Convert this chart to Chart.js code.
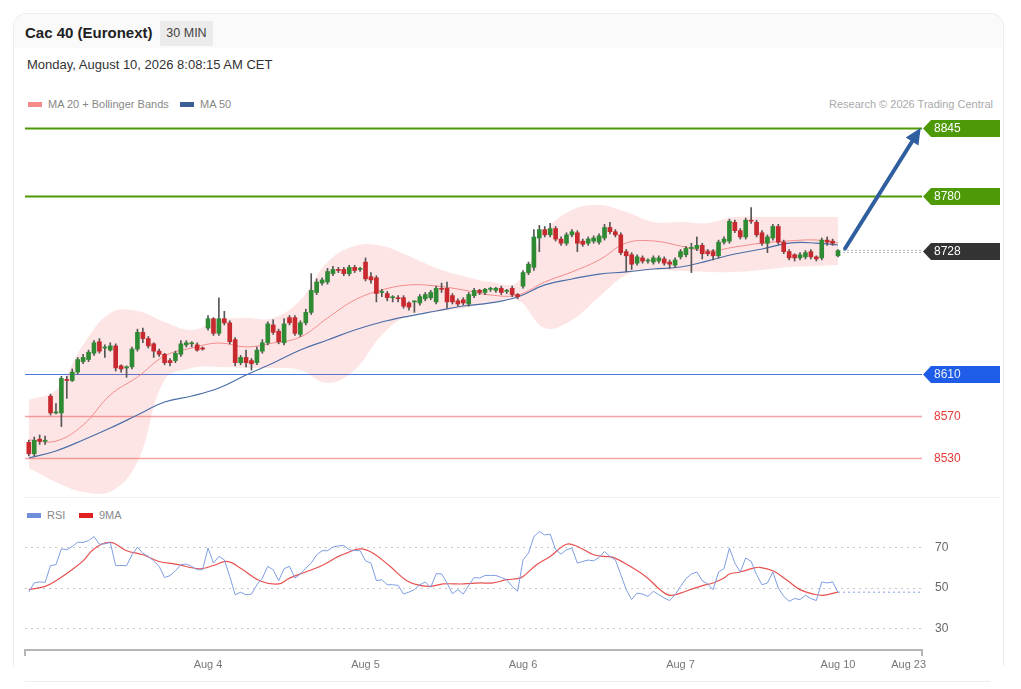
<!DOCTYPE html>
<html>
<head>
<meta charset="utf-8">
<script src="https://cdn.jsdelivr.net/npm/chart.js@4.4.1/dist/chart.umd.min.js"></script>
<style>
body { margin: 0; background: #fff; font-family: "Liberation Sans", Arial, sans-serif; width: 1021px; height: 689px; overflow: hidden; position: relative; }
.card { position: absolute; left: 13px; top: 13px; width: 989px; height: 652px; border: 1px solid #ececec; border-bottom: none; border-radius: 14px 14px 0 0; }
.head { position: absolute; left: 14px; top: 14px; width: 988px; height: 34px; background: #fafafa; border-radius: 13px 13px 0 0; }
#title { position: absolute; left: 25px; top: 24px; font-size: 15px; font-weight: bold; color: #222; }
#tf { position: absolute; left: 160px; top: 21px; width: 53px; height: 25px; background: #ebebeb; border-radius: 2px; font-size: 12.5px; color: #444; line-height: 25px; text-align: center; }
#date { position: absolute; left: 27px; top: 57px; font-size: 13px; color: #333; }
.leg { position: absolute; font-size: 11px; color: #888; white-space: nowrap; line-height: 14px; }
.sw { display: inline-block; width: 14px; height: 5px; vertical-align: middle; margin-right: 6px; position: relative; top: -1px; }
#credit { position: absolute; right: 28px; top: 98px; font-size: 11px; color: #aaa; }
#sep { position: absolute; left: 25px; top: 497px; width: 975px; border-top: 1px dotted #e0e0e0; }
#foot { position: absolute; left: 25px; top: 681px; width: 965px; border-top: 1px solid #eee; }
#mainWrap { position: absolute; left: 0; top: 110px; }
#rsiWrap { position: absolute; left: 0; top: 500px; }
</style>
</head>
<body>
<div class="card"></div>
<div class="head"></div>
<div id="title">Cac 40 (Euronext)</div>
<div id="tf">30 MIN</div>
<div id="date">Monday, August 10, 2026 8:08:15 AM CET</div>
<div class="leg" style="left:28px;top:97px"><span class="sw" style="background:#f58b8b"></span>MA 20 + Bollinger Bands</div>
<div class="leg" style="left:180px;top:97px"><span class="sw" style="background:#3d5f98"></span>MA 50</div>
<div id="credit">Research © 2026 Trading Central</div>
<div id="sep"></div>
<div class="leg" style="left:27px;top:508px"><span class="sw" style="background:#6f8fdc"></span>RSI</div>
<div class="leg" style="left:79px;top:508px"><span class="sw" style="background:#e02020"></span>9MA</div>
<div id="foot"></div>
<div id="mainWrap"><canvas id="main" width="1021" height="390"></canvas></div>
<div id="rsiWrap"><canvas id="rsi" width="1021" height="189"></canvas></div>
<script>
// 30 min candles, index 0 = first bar
const opens = [
  8545, 8534, 8548, 8546, 8589, 8573, 8573, 8605, 8604, 8612,
  8622, 8624, 8630, 8641, 8635, 8633, 8637, 8618, 8616, 8617,
  8634, 8650, 8644, 8639, 8632, 8629, 8623, 8623, 8629, 8638,
  8639, 8638, 8635, 8654, 8663, 8649, 8663, 8659, 8643, 8621,
  8626, 8623, 8621, 8632, 8640, 8657, 8651, 8640, 8664, 8664,
  8648, 8659, 8669, 8688, 8697, 8698, 8706, 8710, 8710, 8706,
  8712, 8710, 8717, 8703, 8702, 8688, 8687, 8683, 8683, 8683,
  8678, 8679, 8678, 8682, 8683, 8679, 8692, 8692, 8685, 8680,
  8681, 8677, 8685, 8690, 8688, 8691, 8690, 8692, 8689, 8692,
  8686, 8694, 8707, 8712, 8740, 8748, 8743, 8749, 8739, 8735,
  8743, 8745, 8737, 8735, 8737, 8736, 8740, 8750, 8746, 8743,
  8727, 8724, 8716, 8721, 8718, 8717, 8718, 8720, 8717, 8714,
  8722, 8724, 8730, 8730, 8733, 8727, 8727, 8723, 8736, 8737,
  8755, 8747, 8741, 8757, 8755, 8745, 8735, 8740, 8751, 8736,
  8727, 8724, 8721, 8722, 8727, 8722, 8721, 8738, 8737, 8723
];
const highs = [
  8547, 8550, 8552, 8551, 8591, 8582, 8608, 8608, 8615, 8626,
  8629, 8633, 8642, 8644, 8638, 8640, 8639, 8619, 8618, 8636,
  8653, 8654, 8646, 8640, 8634, 8630, 8625, 8632, 8642, 8642,
  8641, 8640, 8636, 8666, 8664, 8683, 8670, 8661, 8645, 8628,
  8633, 8625, 8636, 8643, 8660, 8662, 8653, 8663, 8666, 8666,
  8661, 8672, 8706, 8701, 8702, 8711, 8713, 8712, 8712, 8714,
  8714, 8712, 8721, 8707, 8704, 8691, 8689, 8685, 8685, 8685,
  8679, 8680, 8686, 8688, 8690, 8694, 8697, 8698, 8687, 8682,
  8683, 8688, 8692, 8691, 8692, 8693, 8693, 8694, 8691, 8694,
  8687, 8709, 8717, 8748, 8752, 8751, 8754, 8751, 8741, 8745,
  8748, 8747, 8739, 8741, 8742, 8744, 8753, 8755, 8748, 8745,
  8729, 8726, 8724, 8723, 8720, 8723, 8723, 8722, 8719, 8721,
  8729, 8732, 8735, 8741, 8735, 8729, 8729, 8738, 8741, 8758,
  8757, 8749, 8759, 8769, 8757, 8747, 8743, 8753, 8753, 8738,
  8729, 8725, 8726, 8728, 8729, 8723, 8740, 8741, 8739, 8729
];
const lows = [
  8532, 8532, 8543, 8543, 8571, 8572, 8560, 8587, 8603, 8610,
  8620, 8622, 8628, 8630, 8626, 8632, 8613, 8612, 8607, 8615,
  8632, 8640, 8635, 8626, 8627, 8619, 8618, 8621, 8627, 8636,
  8636, 8632, 8633, 8652, 8647, 8647, 8657, 8639, 8618, 8619,
  8617, 8614, 8619, 8630, 8638, 8648, 8639, 8638, 8657, 8647,
  8646, 8657, 8667, 8686, 8695, 8696, 8704, 8707, 8704, 8704,
  8707, 8708, 8699, 8697, 8679, 8684, 8680, 8679, 8679, 8673,
  8671, 8669, 8676, 8680, 8681, 8677, 8688, 8673, 8677, 8675,
  8676, 8675, 8683, 8686, 8686, 8689, 8688, 8686, 8687, 8684,
  8682, 8692, 8705, 8709, 8727, 8741, 8741, 8737, 8733, 8733,
  8741, 8727, 8732, 8733, 8735, 8734, 8738, 8744, 8741, 8724,
  8708, 8710, 8714, 8716, 8716, 8715, 8716, 8714, 8711, 8712,
  8720, 8722, 8707, 8728, 8720, 8723, 8719, 8721, 8734, 8735,
  8745, 8739, 8739, 8754, 8741, 8733, 8726, 8738, 8734, 8725,
  8719, 8718, 8719, 8720, 8720, 8718, 8719, 8733, 8733, 8722
];
const closes = [
  8534, 8547, 8546, 8547, 8573, 8574, 8606, 8604, 8612, 8624,
  8626, 8631, 8640, 8632, 8635, 8637, 8616, 8615, 8617, 8634,
  8650, 8644, 8637, 8632, 8629, 8621, 8621, 8630, 8639, 8640,
  8639, 8633, 8634, 8663, 8649, 8663, 8659, 8641, 8621, 8626,
  8621, 8620, 8633, 8640, 8658, 8650, 8641, 8658, 8659, 8649,
  8659, 8669, 8690, 8698, 8700, 8708, 8710, 8709, 8706, 8712,
  8709, 8710, 8701, 8700, 8687, 8688, 8683, 8683, 8682, 8675,
  8674, 8679, 8684, 8686, 8688, 8692, 8691, 8679, 8679, 8677,
  8678, 8686, 8690, 8688, 8691, 8691, 8692, 8688, 8690, 8686,
  8684, 8707, 8715, 8741, 8748, 8743, 8749, 8739, 8735, 8743,
  8746, 8735, 8734, 8739, 8740, 8742, 8750, 8746, 8743, 8726,
  8723, 8715, 8722, 8718, 8718, 8721, 8721, 8716, 8715, 8719,
  8727, 8730, 8731, 8733, 8725, 8725, 8723, 8736, 8739, 8756,
  8747, 8741, 8757, 8756, 8743, 8735, 8741, 8751, 8736, 8727,
  8721, 8721, 8724, 8726, 8722, 8720, 8738, 8736, 8735, 8728
];

// moving averages and bands, read at these bar indexes
const bandIdx = [0, 5, 10, 15, 20, 25, 30, 35, 40, 45, 50, 55, 60, 65, 70, 75, 80, 85, 90, 95, 100, 105, 110, 115, 120, 125, 130, 135, 140, 145, 149];
const bbUpper = [8585.4, 8594.9, 8637.9, 8668.4, 8670.3, 8659.8, 8652.2, 8661.7, 8663.6, 8663.6, 8680.8, 8717.1, 8732.4, 8732.4, 8722.8, 8711.4, 8703.7, 8698.0, 8698.0, 8745.7, 8766.7, 8771.5, 8764.8, 8755.3, 8755.3, 8754.3, 8760.1, 8760.1, 8760.1, 8760.1, 8760.1];
const bbLower = [8520.5, 8507.1, 8497.5, 8497.5, 8526.2, 8604.5, 8615.9, 8616.9, 8615.9, 8615.9, 8614.0, 8601.6, 8614.0, 8647.4, 8666.5, 8669.4, 8673.2, 8678.0, 8680.8, 8654.1, 8661.7, 8683.7, 8704.7, 8709.5, 8708.5, 8707.6, 8707.6, 8709.5, 8712.3, 8713.3, 8714.2];
const ma20 = [8547.2, 8546.2, 8561.5, 8590.2, 8607.3, 8627.4, 8635.0, 8639.8, 8636.0, 8639.8, 8645.5, 8663.6, 8680.8, 8690.4, 8695.2, 8694.2, 8690.4, 8685.6, 8685.6, 8698.0, 8707.6, 8719.0, 8735.2, 8737.2, 8732.4, 8727.6, 8731.4, 8735.2, 8737.2, 8738.1, 8735.2];
const ma50 = [8530.0, 8536.7, 8547.2, 8558.6, 8571.1, 8583.5, 8589.2, 8596.8, 8609.2, 8620.7, 8633.1, 8642.6, 8652.2, 8659.8, 8665.5, 8670.3, 8675.1, 8678.0, 8683.7, 8695.2, 8700.9, 8705.6, 8707.6, 8710.4, 8712.3, 8718.1, 8724.7, 8729.5, 8735.2, 8735.2, 8733.3];

// RSI per bar, and its 9 period average read at these indexes
const rsi = [
  48.0, 52.5, 53.0, 52.8, 61.1, 61.5, 69.3, 68.9, 70.5, 72.6,
  72.5, 73.4, 75.4, 71.6, 71.8, 72.5, 61.0, 61.1, 61.0, 66.4,
  70.2, 67.2, 65.6, 63.4, 60.7, 55.2, 56.1, 58.5, 61.5, 61.8,
  60.7, 59.0, 59.0, 69.7, 62.3, 65.6, 63.9, 55.7, 46.7, 47.9,
  46.7, 47.0, 51.6, 54.9, 60.7, 59.0, 53.6, 59.5, 60.7, 54.9,
  56.9, 59.8, 62.3, 66.4, 68.4, 68.4, 70.2, 70.8, 71.0, 68.9,
  68.5, 68.4, 63.4, 62.3, 53.6, 54.1, 51.6, 51.6, 51.3, 47.0,
  48.0, 49.2, 51.6, 53.0, 50.3, 57.0, 57.0, 52.5, 47.2, 49.2,
  47.0, 51.3, 55.2, 54.9, 56.2, 56.2, 56.2, 55.2, 54.1, 50.8,
  48.4, 63.9, 67.2, 75.4, 77.9, 76.2, 76.6, 68.9, 66.7, 68.9,
  69.7, 62.3, 63.1, 63.8, 63.4, 65.1, 68.0, 65.6, 63.9, 56.6,
  49.2, 44.3, 47.5, 47.0, 45.9, 48.4, 46.7, 45.1, 43.8, 46.7,
  50.8, 54.6, 56.9, 57.9, 53.6, 52.0, 49.2, 57.9, 59.5, 69.7,
  62.3, 57.9, 64.8, 63.1, 56.6, 51.6, 52.5, 57.9, 50.0, 45.9,
  43.4, 44.8, 44.3, 46.4, 44.8, 43.8, 53.0, 52.5, 53.0, 47.9
];
const ma9Idx = [0, 3, 5, 7.5, 10, 12, 15, 18, 21, 24, 27, 31.5, 34, 36.5, 39, 42.5, 46, 48, 51, 54, 57, 58.5, 61, 63.4, 66.5, 69.6, 72, 74, 76.3, 80, 83, 85.5, 88, 90, 91, 93.5, 96, 99, 101, 104, 106, 107.6, 110.7, 113.8, 116.3, 118, 120, 122.3, 124.2, 126, 128, 129, 131, 133.4, 134.6, 137, 139.5, 142, 144.5, 146.3, 149];
const ma9Val = [49.2, 50.8, 53.6, 58.2, 63.4, 69.3, 72.5, 68.4, 66.4, 63.1, 61.8, 59.5, 61.1, 63.1, 59.8, 53.6, 52.0, 54.9, 57.9, 61.1, 65.6, 67.2, 69.3, 67.2, 60.7, 53.6, 51.3, 50.8, 52.0, 52.0, 52.5, 52.5, 54.1, 54.6, 55.7, 61.5, 65.6, 71.6, 70.5, 66.4, 65.6, 65.1, 60.7, 55.2, 49.0, 46.4, 47.5, 49.7, 51.3, 52.5, 54.9, 56.9, 57.9, 59.8, 60.2, 58.5, 54.1, 49.2, 47.0, 46.4, 48.0];
const rsiTicks = [30, 50, 70];

// axis labels (bar index of each day open)
const dayTicks = [33, 62, 91, 120, 149, 162];
const dayLabels = ['Aug 4', 'Aug 5', 'Aug 6', 'Aug 7', 'Aug 10', 'Aug 23'];

// analyst levels and target arrow
const levelValues = [8845, 8780, 8728, 8610, 8570, 8530];
const levelKinds = ['target', 'target', 'last', 'pivot', 'support', 'support'];
const arrowFrom = [150.3, 8730];
const arrowTo = [164.2, 8845];

const X_MIN = -0.7, X_MAX = 164.46;
const GREEN = '#2f8a34', RED = '#c8292e';

Chart.defaults.font.family = '"Liberation Sans", Arial, sans-serif';
Chart.defaults.animation = false;

const pts = (xs, ys) => xs.map((x, k) => ({ x: x, y: ys[k] }));
const bodies = opens.map((o, i) => ({ x: i, y: [o, closes[i]] }));
const wicks = lows.map((l, i) => ({ x: i, y: [l, highs[i]] }));

function levelBox(ctx, left, cy, fill, text, textColor) {
    const right = left + 77, h = 8.5;
    ctx.fillStyle = fill;
    ctx.beginPath();
    ctx.moveTo(left, cy);
    ctx.lineTo(left + 8, cy - h);
    ctx.lineTo(right, cy - h);
    ctx.lineTo(right, cy + h);
    ctx.lineTo(left + 8, cy + h);
    ctx.closePath();
    ctx.fill();
    ctx.fillStyle = textColor;
    ctx.fillText(text, left + 11, cy + 0.5);
}

const levelPlugin = {
    id: 'levels',
    beforeDatasetsDraw(chart) {
        const { ctx, chartArea: a, scales: { x, y } } = chart;
        ctx.save();
        levelValues.forEach((v, k) => {
            const py = Math.round(y.getPixelForValue(v)) + 0.5;
            const kind = levelKinds[k];
            ctx.setLineDash([]);
            if (kind === 'target') { ctx.strokeStyle = '#4e9a06'; ctx.lineWidth = 2; }
            else if (kind === 'pivot') { ctx.strokeStyle = '#4a78de'; ctx.lineWidth = 1.2; }
            else if (kind === 'support') { ctx.strokeStyle = '#f4a4a4'; ctx.lineWidth = 1.5; }
            else return;
            ctx.beginPath();
            ctx.moveTo(a.left, py);
            ctx.lineTo(a.right, py);
            ctx.stroke();
        });
        ctx.restore();
    },
    afterDatasetsDraw(chart) {
        const { ctx, chartArea: a, scales: { x, y } } = chart;
        ctx.save();
        // dotted line from last bar
        const lastIdx = closes.length - 1;
        levelValues.forEach((v, k) => {
            if (levelKinds[k] !== 'last') return;
            const py = Math.round(y.getPixelForValue(v));
            ctx.strokeStyle = '#b8b8b8';
            ctx.lineWidth = 1;
            ctx.setLineDash([2, 2]);
            [py - 0.5, py + 1.5].forEach(yy => {
                ctx.beginPath();
                ctx.moveTo(x.getPixelForValue(lastIdx) + 5, yy);
                ctx.lineTo(a.right, yy);
                ctx.stroke();
            });
        });
        ctx.setLineDash([]);
        // target arrow
        const x1 = x.getPixelForValue(arrowFrom[0]), y1 = y.getPixelForValue(arrowFrom[1]);
        const x2 = x.getPixelForValue(arrowTo[0]), y2 = y.getPixelForValue(arrowTo[1]);
        const ang = Math.atan2(y2 - y1, x2 - x1);
        const hl = 16, hw = 7.5;
        const bx = x2 - hl * Math.cos(ang), by = y2 - hl * Math.sin(ang);
        ctx.strokeStyle = '#2f5f9e';
        ctx.fillStyle = '#2f5f9e';
        ctx.lineWidth = 4;
        ctx.lineCap = 'round';
        ctx.beginPath();
        ctx.moveTo(x1, y1);
        ctx.lineTo(bx, by);
        ctx.stroke();
        ctx.beginPath();
        ctx.moveTo(x2, y2);
        ctx.lineTo(bx + hw * Math.sin(ang), by - hw * Math.cos(ang));
        ctx.lineTo(bx - hw * Math.sin(ang), by + hw * Math.cos(ang));
        ctx.closePath();
        ctx.fill();
        // right side labels
        ctx.font = '12px "Liberation Sans", Arial, sans-serif';
        ctx.textBaseline = 'middle';
        ctx.textAlign = 'left';
        levelValues.forEach((v, k) => {
            const cy = Math.round(y.getPixelForValue(v)) + 0.5;
            const kind = levelKinds[k];
            const left = a.right + 1;
            if (kind === 'target') levelBox(ctx, left, cy, '#4e9a06', String(v), '#fff');
            else if (kind === 'last') levelBox(ctx, left, cy, '#333', String(v), '#fff');
            else if (kind === 'pivot') levelBox(ctx, left, cy, '#1f5ce8', String(v), '#e8efff');
            else {
                ctx.fillStyle = '#e53935';
                ctx.fillText(String(v), left + 11, cy + 0.5);
            }
        });
        ctx.restore();
    }
};

new Chart(document.getElementById('main'), {
    type: 'bar',
    data: {
        datasets: [
            { type: 'line', data: pts(bandIdx, ma20), borderColor: '#f28b8b', borderWidth: 1, pointRadius: 0, tension: 0.4, fill: false, order: 2 },
            { type: 'line', data: pts(bandIdx, ma50), borderColor: '#4a6ea8', borderWidth: 1.2, pointRadius: 0, tension: 0.4, fill: false, order: 2 },
            { type: 'line', data: pts(bandIdx, bbUpper), borderColor: 'rgba(0,0,0,0)', borderWidth: 0, pointRadius: 0, tension: 0.4, fill: '+1', backgroundColor: 'rgba(245,80,80,0.15)', order: 5 },
            { type: 'line', data: pts(bandIdx, bbLower), borderColor: 'rgba(0,0,0,0)', borderWidth: 0, pointRadius: 0, tension: 0.4, fill: false, order: 5 },
            { data: wicks, backgroundColor: '#555', barThickness: 1, grouped: false, order: 1 },
            {
                data: bodies,
                backgroundColor: ctx => closes[ctx.dataIndex] >= opens[ctx.dataIndex] ? GREEN : RED,
                barThickness: 4, minBarLength: 1, grouped: false, order: 0
            }
        ]
    },
    options: {
        responsive: false,
        layout: { padding: { left: 25, right: 99, top: 5, bottom: 5 } },
        plugins: { legend: { display: false }, tooltip: { enabled: false } },
        scales: {
            x: { type: 'linear', min: X_MIN, max: X_MAX, offset: false, display: false },
            y: { type: 'linear', min: 8494.7, max: 8857.4, display: false }
        }
    },
    plugins: [levelPlugin]
});

const rsiPlugin = {
    id: 'rsiExtras',
    afterDatasetsDraw(chart) {
        const { ctx, chartArea: a, scales: { x, y } } = chart;
        ctx.save();
        const last = rsi.length - 1;
        const py = y.getPixelForValue(rsi[last]);
        ctx.strokeStyle = '#a9bcea';
        ctx.lineWidth = 1.5;
        ctx.setLineDash([2, 3]);
        ctx.beginPath();
        ctx.moveTo(x.getPixelForValue(last), py);
        ctx.lineTo(a.right, py);
        ctx.stroke();
        ctx.setLineDash([]);
        ctx.strokeStyle = '#b5b5b5';
        ctx.lineWidth = 2;
        [a.left, a.right].forEach(px => {
            ctx.beginPath();
            ctx.moveTo(px, a.bottom);
            ctx.lineTo(px, a.bottom + 6);
            ctx.stroke();
        });
        ctx.restore();
    }
};

new Chart(document.getElementById('rsi'), {
    type: 'line',
    data: {
        datasets: [
            { data: rsi.map((v, i) => ({ x: i, y: v })), borderColor: '#7f9de2', borderWidth: 1, pointRadius: 0, tension: 0 },
            { data: pts(ma9Idx, ma9Val), borderColor: '#e8504f', borderWidth: 1.2, pointRadius: 0, tension: 0.4 }
        ]
    },
    options: {
        responsive: false,
        layout: { padding: { left: 25, right: 0, top: 25, bottom: 0 } },
        plugins: { legend: { display: false }, tooltip: { enabled: false } },
        scales: {
            x: {
                type: 'linear', min: X_MIN, max: X_MAX, offset: false,
                grid: { display: false, drawTicks: false },
                border: { display: true, color: '#b5b5b5', width: 2 },
                ticks: { autoSkip: false, maxRotation: 0, padding: 8, color: '#777', font: { size: 11 }, callback: (v, i) => dayLabels[i] },
                afterBuildTicks: s => { s.ticks = dayTicks.map(v => ({ value: v })); },
                afterFit: s => { s.height = 39; }
            },
            y: {
                position: 'right', min: 19.4, max: 81.1,
                grid: { color: '#c8c8c8', lineWidth: 1, drawTicks: false },
                border: { display: false, dash: [2, 4] },
                ticks: { padding: 13, color: '#666', font: { size: 12 } },
                afterBuildTicks: s => { s.ticks = rsiTicks.map(v => ({ value: v })); },
                afterFit: s => { s.width = 99; }
            }
        }
    },
    plugins: [rsiPlugin]
});
</script>
</body>
</html>
